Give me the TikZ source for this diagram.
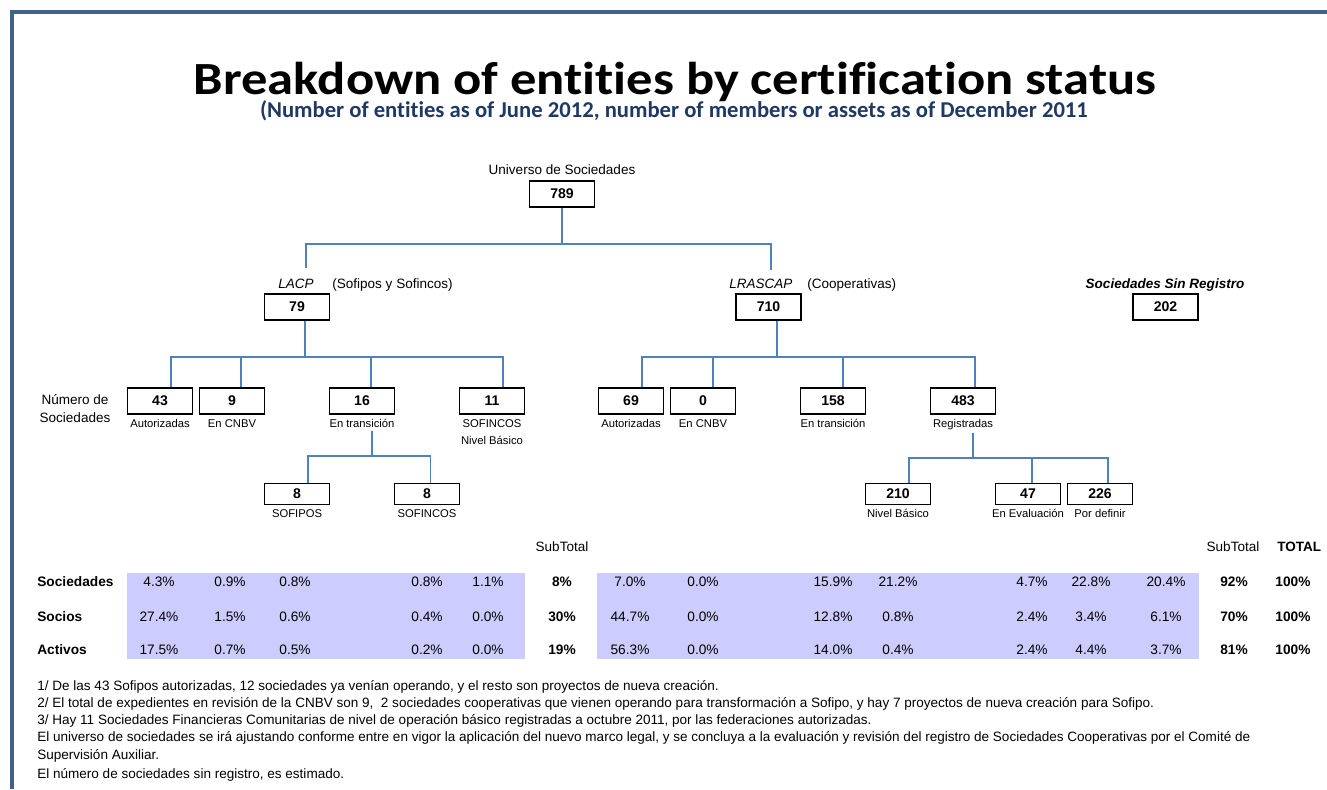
\documentclass[tikz,border=0pt]{standalone}
\usepackage{fontspec}
\setmainfont{Liberation Sans}
\newfontfamily\titlefont[Ligatures=NoCommon]{Carlito}
\definecolor{blue1}{RGB}{65,96,140}
\definecolor{blue2}{RGB}{79,129,189}
\definecolor{navy1}{RGB}{31,56,100}
\definecolor{lilac1}{RGB}{204,204,255}

\begin{document}
\begin{tikzpicture}[x=0.02cm,y=-0.02cm,
	box/.style={draw=black,line width=0.7pt,fill=white,minimum width=1.3cm,minimum height=0.52cm,inner sep=0pt,font=\fontsize{8}{9}\selectfont\bfseries},
	sbox/.style={box,minimum height=0.42cm},
	lbl/.style={anchor=base,inner sep=0pt,font=\fontsize{6.4}{8}\selectfont},
	hd/.style={anchor=base,inner sep=0pt,font=\fontsize{7.7}{9}\selectfont},
	conn/.style={draw=blue2,line width=1.1pt},
	val/.style={anchor=base,inner sep=0pt,font=\fontsize{7.8}{9}\selectfont},
	tot/.style={anchor=base,inner sep=0pt,font=\fontsize{7.8}{9}\selectfont\bfseries},
	note/.style={anchor=base west,inner sep=0pt,font=\fontsize{7.7}{9}\selectfont}]

	\useasboundingbox (0,0) rectangle (1327,789);

	%%% Frame
	\draw[blue1,line width=1.8pt] (12,789) -- (12,12) -- (1327,12);

	%%% Title
	\node[anchor=base,inner sep=0pt,font=\titlefont\bfseries\fontsize{28.5}{32}\selectfont] (title) at (675,94) {\scalebox{1.05}[0.92]{Breakdown of entities by certification status}};
	\node[anchor=base,inner sep=0pt,navy1,font=\titlefont\bfseries\fontsize{12.9}{15}\selectfont] (subtitle) at (674,117) {(Number of entities as of June 2012, number of members or assets as of December 2011};

	%%% Universe
	\node[hd] (univ) at (562,174) {Universo de Sociedades};
	\node[box] (b789) at (562,194) {789};

	%%% LACP, LRASCAP and sin registro
	\node[hd,anchor=base west,font=\fontsize{7.7}{9}\selectfont\itshape] (lacp) at (278,288) {LACP};
	\node[hd,anchor=base west] (lacpsub) at (332,288) {(Sofipos y Sofincos)};
	\node[box] (b79) at (297,307) {79};
	\node[hd,anchor=base west,font=\fontsize{7.7}{9}\selectfont\itshape] (lras) at (729,288) {LRASCAP};
	\node[hd,anchor=base west] (lrassub) at (807,288) {(Cooperativas)};
	\node[box] (b710) at (768.5,307) {710};
	\node[hd,font=\fontsize{7.7}{9}\selectfont\bfseries\itshape] (ssr) at (1165,288) {Sociedades Sin Registro};
	\node[box] (b202) at (1165.5,307) {202};
	\coordinate (lacpin) at (306,268);
	\coordinate (lrasin) at (771,270);

	%%% Numero de sociedades
	\node[hd,anchor=center,align=center,font=\fontsize{7.7}{10.2}\selectfont] (numsoc) at (75,409) {Número de\\Sociedades};
	\node[box] (b43) at (160,401) {43};
	\node[box] (b9) at (232,401) {9};
	\node[box] (b16) at (362,401) {16};
	\node[box] (b11) at (492,401) {11};
	\node[box] (b69) at (631,401) {69};
	\node[box] (b0) at (703,401) {0};
	\node[box] (b158) at (833,401) {158};
	\node[box] (b483) at (963,401) {483};
	\node[lbl] (l43) at (160,427) {Autorizadas};
	\node[lbl] (l9) at (232,427) {En CNBV};
	\node[lbl] (l16) at (362,427) {En transición};
	\node[lbl] (l11) at (492,427) {SOFINCOS};
	\node[lbl] (l11b) at (492,444) {Nivel Básico};
	\node[lbl] (l69) at (631,427) {Autorizadas};
	\node[lbl] (l0) at (703,427) {En CNBV};
	\node[lbl] (l158) at (833,427) {En transición};
	\node[lbl] (l483) at (963,427) {Registradas};

	%%% Third level
	\node[sbox] (b8a) at (297,494) {8};
	\node[sbox] (b8b) at (427,494) {8};
	\node[sbox] (b210) at (898,494) {210};
	\node[sbox] (b47) at (1028,494) {47};
	\node[sbox] (b226) at (1100,494) {226};
	\node[lbl] (l8a) at (297,517) {SOFIPOS};
	\node[lbl] (l8b) at (427,517) {SOFINCOS};
	\node[lbl] (l210) at (898,517) {Nivel Básico};
	\node[lbl] (l47) at (1028,517) {En Evaluación};
	\node[lbl] (l226) at (1100,517) {Por definir};

	%%% Connectors
	\draw[conn] (b789.south) -- ++(0,36) -| (lacpin);
	\draw[conn] (b789.south) -- ++(0,36) -| (lrasin);
	\foreach \c/\s in {b43/6pt,b9/5pt,b16/5pt,b11/6.5pt}
		\draw[conn] ([xshift=4.5pt]b79.south) -- ++(0,36) -| ([xshift=\s]\c.north);
	\foreach \c/\s in {b69/6pt,b0/5.5pt,b158/5.5pt,b483/7pt}
		\draw[conn] ([xshift=4.8pt]b710.south) -- ++(0,36) -| ([xshift=\s]\c.north);
	\foreach \c/\s in {b8a/6.5pt,b8b/2pt}
		\draw[conn] ([xshift=5.5pt,yshift=-2pt]l16.south) -- ++(0,25) -| ([xshift=\s]\c.north);
	\foreach \c/\s in {b210/6.2pt,b47/2.3pt,b226/4.5pt}
		\draw[conn] ([xshift=5.5pt,yshift=-2pt]l483.south) -- ++(0,25) -| ([xshift=\s]\c.north);

	%%% Percentages table
	\fill[lilac1] (127,573) rectangle (525,659);
	\fill[lilac1] (597,573) rectangle (1199,659);
	\node[hd] (sub1) at (562,551) {SubTotal};
	\node[hd] (sub2) at (1233,551) {SubTotal};
	\node[hd,anchor=base west,font=\fontsize{7.7}{9}\selectfont\bfseries] (total) at (1277,551) {TOTAL};
	\node[hd,anchor=base west,font=\fontsize{7.8}{9}\selectfont\bfseries] (rsoc) at (37,586) {Sociedades};
	\node[hd,anchor=base west,font=\fontsize{7.8}{9}\selectfont\bfseries] (rsos) at (37,621) {Socios};
	\node[hd,anchor=base west,font=\fontsize{7.8}{9}\selectfont\bfseries] (ract) at (37,654) {Activos};
	\foreach \x/\a/\b/\c in {159/4.3/27.4/17.5, 230/0.9/1.5/0.7, 295/0.8/0.6/0.5, 427/0.8/0.4/0.2, 488/1.1/0.0/0.0,
		630/7.0/44.7/56.3, 703/0.0/0.0/0.0, 833/15.9/12.8/14.0, 898/21.2/0.8/0.4, 1032/4.7/2.4/2.4, 1091/22.8/3.4/4.4, 1166/20.4/6.1/3.7}{
		\node[val] (soc\x) at (\x,586) {\a\%};
		\node[val] (sos\x) at (\x,621) {\b\%};
		\node[val] (act\x) at (\x,654) {\c\%};
	}
	\foreach \x/\a/\b/\c in {562/8/30/19, 1234/92/70/81, 1293/100/100/100}{
		\node[tot] (soc\x) at (\x,586) {\a\%};
		\node[tot] (sos\x) at (\x,621) {\b\%};
		\node[tot] (act\x) at (\x,654) {\c\%};
	}

	%%% Notes
	\node[note] (n1) at (37,690) {1/ De las 43 Sofipos autorizadas, 12 sociedades ya venían operando, y el resto son proyectos de nueva creación.};
	\node[note] (n2) at (37,707) {2/ El total de expedientes en revisión de la CNBV son 9,\ \ 2 sociedades cooperativas que vienen operando para transformación a Sofipo, y hay 7 proyectos de nueva creación para Sofipo.};
	\node[note] (n3) at (37,724) {3/ Hay 11 Sociedades Financieras Comunitarias de nivel de operación básico registradas a octubre 2011, por las federaciones autorizadas.};
	\node[note] (n4) at (37,741) {El universo de sociedades se irá ajustando conforme entre en vigor la aplicación del nuevo marco legal, y se concluya a la evaluación y revisión del registro de Sociedades Cooperativas por el Comité de};
	\node[note] (n5) at (37,759) {Supervisión Auxiliar.};
	\node[note] (n6) at (37,778) {El número de sociedades sin registro, es estimado.};

\end{tikzpicture}
\end{document}
